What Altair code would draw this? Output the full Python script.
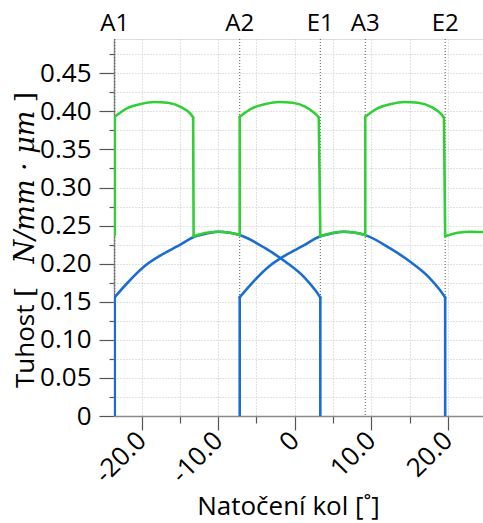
import altair as alt
import pandas as pd

# ---- data ----
green_x = [-23.5, -23.5, -21.9, -20.1, -18.4, -16.6, -14.9, -13.6, -13.26, -13.2,
           -11.5, -9.9, -8.5, -7.18, -7.18, -5.58, -3.78, -2.08, -0.28, 1.42, 2.72,
           3.15, 3.35, 5.0, 6.4, 7.9, 9.22, 9.22, 10.82, 12.62, 14.32, 16.12, 17.82,
           19.12, 19.5, 19.66, 21.3, 23.0, 24.6]
green_y = [0.2375, 0.393, 0.404, 0.4097, 0.4123, 0.4114, 0.406, 0.3966, 0.392, 0.236,
           0.2405, 0.242, 0.2405, 0.2375, 0.393, 0.404, 0.4097, 0.4123, 0.4114, 0.406, 0.3966,
           0.392, 0.236, 0.2405, 0.242, 0.2405, 0.2375, 0.393, 0.404, 0.4097, 0.4123, 0.4114, 0.406,
           0.3966, 0.392, 0.236, 0.2405, 0.242, 0.2415]

blue1_x = [-23.5, -23.5, -22.1, -19.7, -17.5, -15.3, -12.95, -11.5, -9.9, -8.5, -7.18,
           -3.8, -1.2, 1.2, 2.7, 3.35, 3.35]
blue1_y = [0.0, 0.156, 0.172, 0.196, 0.211, 0.223, 0.236, 0.2395, 0.242, 0.2405, 0.2375,
           0.220, 0.2025, 0.1827, 0.165, 0.1556, 0.0]

blue2_x = [-7.18, -7.18, -5.8, -3.4, -1.2, 1.0, 3.35, 4.8, 6.4, 7.9, 9.22,
           12.48, 15.1, 17.48, 19.0, 19.66, 19.66]
blue2_y = [0.0, 0.156, 0.172, 0.196, 0.211, 0.223, 0.236, 0.2395, 0.242, 0.2405, 0.2375,
           0.220, 0.2025, 0.1827, 0.165, 0.1556, 0.0]

event_names = ["A1", "A2", "E1", "A3", "E2"]
event_x = [-23.5, -7.18, 3.35, 9.22, 19.66]

x_ticks = [-20, -15, -10, -5, 0, 5, 10, 15, 20]
y_ticks = [round(i * 0.025, 3) for i in range(20)]

GREEN = "#30d035"
BLUE = "#1a6dd2"
SANS = "Open Sans"


def segments(name, xs, ys):
    """Split a polyline into smooth pieces and vertical jumps (same points, no new values)."""
    rows = []
    cur = [0]
    pieces = []
    for k in range(1, len(xs)):
        vertical = abs(xs[k] - xs[k - 1]) < 0.3 and abs(ys[k] - ys[k - 1]) > 0.05
        if vertical:
            if len(cur) > 1:
                pieces.append(cur)
            pieces.append([k - 1, k])
            cur = [k]
        else:
            cur.append(k)
    if len(cur) > 1:
        pieces.append(cur)
    for seg, p in enumerate(pieces):
        for order, k in enumerate(p):
            rows.append({"x": xs[k], "y": ys[k], "i": order, "seg": f"{name}{seg}"})
    return pd.DataFrame(rows)


blue_df = pd.concat([segments("b1_", blue1_x, blue1_y), segments("b2_", blue2_x, blue2_y)])
green_df = segments("g_", green_x, green_y)
events_df = pd.DataFrame({"x": event_x, "name": event_names})

xscale = alt.Scale(domain=[-23.6, 24.6], nice=False, zero=False)
yscale = alt.Scale(domain=[0, 0.495], nice=False)

x_axis = alt.Axis(
    values=x_ticks,
    labelExpr=("datum.value % 10 !== 0 ? '' : (datum.value === 0 ? '0' : "
               "(datum.value < 0 ? '-' + format(-datum.value, '.1f') : format(datum.value, '.1f')))"),
    tickSize={"condition": {"test": "datum.value % 10 === 0", "value": 14}, "value": 7},
    labelAngle=-45, labelAlign="right", labelBaseline="middle", labelFlush=False,
    labelOverlap=False, labelPadding=6,
    labelFont=SANS, labelFontSize=26, labelColor="#000",
    grid=True, gridColor="#c4c4c4", gridDash=[1, 2], gridWidth=1,
    domainColor="#8a8a8a", domainWidth=1.5, tickColor="#555", tickWidth=1.2,
    title="Natočení kol [˚]", titleFont=SANS, titleFontSize=26, titleFontWeight="normal",
    titleColor="#000", titleX=174, titleY=98, titleBaseline="alphabetic", titleAlign="center",
)
y_axis = alt.Axis(
    values=y_ticks,
    labelExpr="round(datum.value * 40) % 2 === 0 ? (datum.value === 0 ? '0' : format(datum.value, '.2f')) : ''",
    tickSize={"condition": {"test": "round(datum.value * 40) % 2 === 0", "value": 15}, "value": 5},
    labelFont=SANS, labelFontSize=26, labelColor="#000", labelPadding=8,
    labelOverlap=False, labelFlush=False,
    grid=True, gridColor="#c4c4c4", gridDash=[1, 2], gridWidth=1,
    domainColor="#8a8a8a", domainWidth=1.5, tickColor="#555", tickWidth=1.2,
    title=None,
)

base_x = alt.X("x:Q", scale=xscale, axis=x_axis)
base_y = alt.Y("y:Q", scale=yscale, axis=y_axis)

event_rules = alt.Chart(events_df).mark_rule(
    color="#5a5a5a", strokeDash=[1, 2], strokeWidth=1
).encode(x=alt.X("x:Q", scale=xscale, axis=x_axis))

blue_lines = alt.Chart(blue_df).mark_line(
    color=BLUE, strokeWidth=2.6, clip=True, interpolate="monotone", strokeCap="round", strokeJoin="round"
).encode(x=base_x, y=base_y, detail="seg:N", order="i:Q")
green_lines = alt.Chart(green_df).mark_line(
    color=GREEN, strokeWidth=2.6, clip=True, interpolate="monotone", strokeCap="round", strokeJoin="round"
).encode(x=base_x, y=base_y, detail="seg:N", order="i:Q")

event_labels = alt.Chart(events_df).mark_text(
    font=SANS, fontSize=24, baseline="alphabetic", align="center", color="#000"
).encode(x=alt.X("x:Q", scale=xscale), y=alt.value(-8), text="name:N")

title_df = pd.DataFrame({"t": ["Tuhost"]})
ytitle1 = alt.Chart(title_df).mark_text(
    font=SANS, fontSize=26, angle=270, align="left", baseline="alphabetic", color="#000"
).encode(x=alt.value(-80), y=alt.value(349), text="t:N")

br_df = pd.DataFrame({"t": ["["]})
ytitle2 = alt.Chart(br_df).mark_text(
    font="DejaVu Serif", fontSize=26, angle=270, align="left", baseline="alphabetic", color="#000"
).encode(x=alt.value(-80), y=alt.value(258), text="t:N")

math_df = pd.DataFrame({"t": ["N/mm · μm"]})
ytitle3 = alt.Chart(math_df).mark_text(
    font="DejaVu Serif", fontSize=27, fontStyle="italic", angle=270, align="center",
    baseline="alphabetic", color="#000"
).encode(x=alt.value(-80), y=alt.value(148), text="t:N")

br2_df = pd.DataFrame({"t": ["]"]})
ytitle4 = alt.Chart(br2_df).mark_text(
    font="DejaVu Serif", fontSize=26, angle=270, align="right", baseline="alphabetic", color="#000"
).encode(x=alt.value(-80), y=alt.value(53), text="t:N")

chart = alt.layer(
    event_rules, blue_lines, green_lines, event_labels, ytitle1, ytitle2, ytitle3, ytitle4
).properties(
    width=369, height=377,
    padding={"left": 114, "top": 39, "right": 0, "bottom": 107},
    autosize=alt.AutoSizeParams(type="none"),
).configure_view(stroke=None).configure(background="white")

chart.save("out.html", embed_options={"renderer": "svg", "actions": False})
